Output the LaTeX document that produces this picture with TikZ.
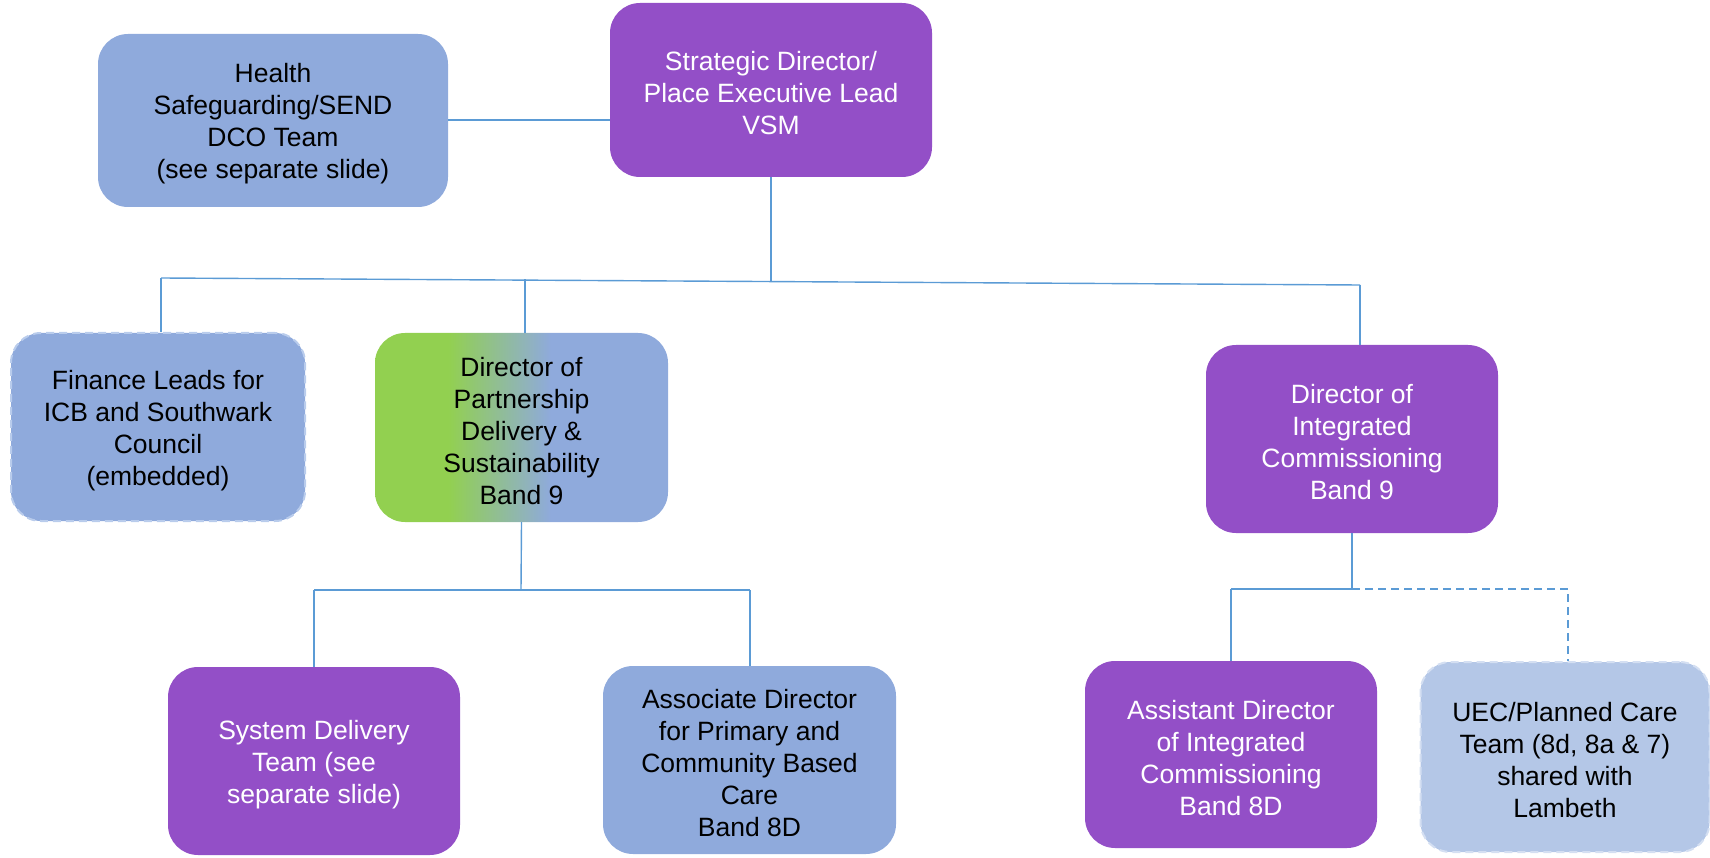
\documentclass[tikz,border=0pt]{standalone}
\usepackage{fontspec}
\setmainfont{Liberation Sans}
\definecolor{purp}{RGB}{147,79,199}
\definecolor{blu}{RGB}{143,170,220}
\definecolor{lblu}{RGB}{180,199,231}
\definecolor{grn}{RGB}{146,208,80}
\definecolor{lnc}{RGB}{91,155,213}
\definecolor{dashb}{RGB}{185,204,236}
\definecolor{dashu}{RGB}{212,223,242}
\newcommand{\mytstrut}{\rule{0pt}{26pt}}
\pgfdeclarehorizontalshading{gbshade}{100bp}{color(0bp)=(grn); color(37.5bp)=(grn); color(55bp)=(blu); color(100bp)=(blu)}
\begin{document}
\begin{tikzpicture}[x=1pt,y=-1pt,
  box/.style={rectangle, rounded corners=30pt, align=center, inner sep=0pt,
    font=\fontsize{26.5}{32}\selectfont},
  purpbox/.style={box, fill=purp, text=white},
  blubox/.style={box, fill=blu, text=black},
  dashbox/.style={box, fill=blu, text=black, draw=dashb, line width=2pt, dash pattern=on 8pt off 5pt},
  uecbox/.style={box, fill=lblu, text=black, draw=dashu, line width=2pt, dash pattern=on 8pt off 5pt},
  conn/.style={draw=lnc, line width=1.4pt},
  dconn/.style={draw=lnc, line width=1.5pt, dash pattern=on 8pt off 5pt}]
\useasboundingbox (0,0) rectangle (1710,858);

\node[blubox, minimum width=350pt, minimum height=173pt] (health) at (273,120.5)
  {\mytstrut Health\\Safeguarding/SEND\\DCO Team\\(see separate slide)};
\node[purpbox, minimum width=322pt, minimum height=174pt] (strat) at (771,90)
  {\mytstrut Strategic Director/\\Place Executive Lead\\VSM};
\node[dashbox, minimum width=294pt, minimum height=188pt] (fin) at (158,427)
  {\mytstrut Finance Leads for\\ICB and Southwark\\Council\\(embedded)};
\node[box, shading=gbshade, minimum width=293pt, minimum height=189pt] (part) at (521.5,427.5)
  {\mytstrut Director of\\Partnership\\Delivery \&\\Sustainability\\Band 9};
\node[purpbox, minimum width=292pt, minimum height=188pt] (integ) at (1352,439)
  {\mytstrut Director of\\Integrated\\Commissioning\\Band 9};
\node[purpbox, minimum width=292pt, minimum height=188pt] (sys) at (314,761)
  {\mytstrut System Delivery\\Team (see\\separate slide)};
\node[blubox, minimum width=293pt, minimum height=188pt] (assoc) at (749.5,760)
  {\mytstrut Associate Director\\for Primary and\\Community Based\\Care\\Band 8D};
\node[purpbox, minimum width=292pt, minimum height=187pt] (asst) at (1231,754.5)
  {\mytstrut Assistant Director\\of Integrated\\Commissioning\\Band 8D};
\node[uecbox, minimum width=289pt, minimum height=190pt] (uec) at (1565,757)
  {\mytstrut UEC/Planned Care\\Team (8d, 8a \& 7)\\shared with\\Lambeth};

% top connectors
\coordinate (hy) at (448,120);
\draw[conn] (hy) -- (hy -| strat.west);
\coordinate (b1) at (161,278);
\coordinate (b2) at (525,279.5);
\coordinate (b3) at (1360,285);
\coordinate (bm) at (771,281.5);
\draw[conn] (strat.south) -- (bm);
\draw[conn] (b1) -- (b3);
\draw[conn] (b1) -- (b1 |- fin.north);
\draw[conn] (b2) -- (b2 |- part.north);
\draw[conn] (b3) -- (b3 |- integ.north);

% left lower connectors
\coordinate (pm) at (521,590);
\coordinate (pl) at (314,590);
\coordinate (pr) at (750,590);
\draw[conn] (part.south) -- (pm);
\draw[conn] (pl) -- (pr);
\draw[conn] (pl) -- (sys.north);
\draw[conn] (pr) -- (pr |- assoc.north);

% right lower connectors
\coordinate (im) at (1352,589);
\coordinate (il) at (1231,589);
\coordinate (ir) at (1568,589);
\draw[conn] (integ.south) -- (im);
\draw[conn] (il) -- (im);
\draw[conn] (il) -- (asst.north);
\draw[dconn] (im) -- (ir) -- (ir |- uec.north);
\end{tikzpicture}
\end{document}
